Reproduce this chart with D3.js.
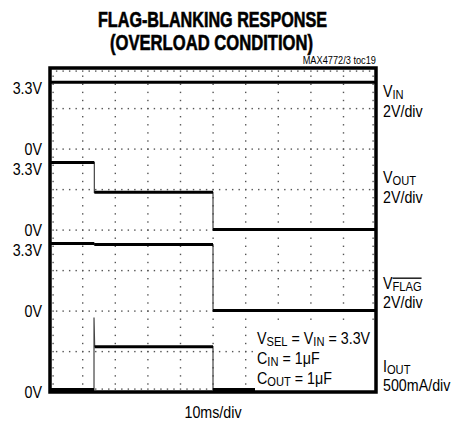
<!DOCTYPE html>
<html>
<head>
<meta charset="utf-8">
<script src="https://cdn.jsdelivr.net/npm/d3@7"></script>
<style>
  body { margin: 0; background: #fff; }
  text { font-family: "Liberation Sans", Arial, sans-serif; fill: #000; }
</style>
</head>
<body>
<div id="scope"></div>
<script>
// time axis: 10ms/div, 10 divisions
var timeDomain = [0, 100];

// traces (time in ms, value in V or A)
var vinTime = [0, 100];
var vinValue = [3.3, 3.3];

var voutTime = [0, 13.6, 13.6, 50, 50, 100];
var voutValue = [3.33, 3.33, 1.86, 1.86, 0.03, 0.03];

var flagTime = [0, 13.6, 13.6, 50, 50, 100];
var flagValue = [3.33, 3.33, 3.28, 3.28, 0.03, 0.03];

var ioutTime = [0, 13.5, 13.5, 13.7, 50, 50, 100];
var ioutValue = [0.03, 0.03, 0.92, 0.56, 0.56, 0.03, 0.03];

// left level labels
var levelLabels = ["3.3V", "0V", "3.3V", "0V", "3.3V", "0V", "0V"];

var width = 453,
    height = 427;

var boxLeft = 50, boxRight = 376, boxTop = 68, boxBottom = 392;

var svg = d3.select("#scope")
  .append("svg")
  .attr("width", width)
  .attr("height", height);

var x = d3.scaleLinear().domain(timeDomain).range([boxLeft, boxRight]);
// screen divisions, 0 at the bottom
var div = d3.scaleLinear().domain([0, 8]).range([boxBottom, boxTop]);

// each channel sits on its own ground line (in divisions)
var channels = [
  { time: vinTime, value: vinValue, ground: 6, perDiv: 2 },
  { time: voutTime, value: voutValue, ground: 4, perDiv: 2 },
  { time: flagTime, value: flagValue, ground: 2, perDiv: 2 },
  { time: ioutTime, value: ioutValue, ground: 0, perDiv: 0.5 }
];
channels.forEach(function(c) {
  c.y = function(v) { return div(c.ground + v / c.perDiv); };
});

// dotted graticule
var grid = svg.append("g").attr("fill", "#555");
var minorY = d3.range(0, 8.001, 0.2);
var minorX = d3.range(0, 100.001, 2);

d3.range(0, 11).forEach(function(i) {
  var gx = x(i * 10);
  if (i === 0) gx += 3;
  if (i === 10) gx -= 3;
  grid.selectAll(null)
    .data(minorY)
    .enter().append("rect")
    .attr("x", gx - 0.6)
    .attr("y", function(d) { return div(d) - 0.6; })
    .attr("width", 1.4)
    .attr("height", 1.4);
});

d3.range(0, 9).forEach(function(j) {
  var gy = div(j);
  if (j === 0) gy -= 3;
  if (j === 8) gy += 3;
  grid.selectAll(null)
    .data(minorX)
    .enter().append("rect")
    .attr("x", function(d) { return x(d) - 0.6; })
    .attr("y", gy - 0.6)
    .attr("width", 1.4)
    .attr("height", 1.4);
});

// traces: thin edges, thick flat segments
channels.forEach(function(c) {
  var pts = c.time.map(function(t, k) { return [x(t), c.y(c.value[k])]; });

  svg.append("path")
    .attr("d", d3.line()(pts))
    .attr("fill", "none")
    .attr("stroke", "#444")
    .attr("stroke-width", 1.2);

  var flats = [];
  for (var k = 1; k < pts.length; k++) {
    if (c.value[k] === c.value[k - 1] && c.time[k] !== c.time[k - 1]) {
      flats.push([pts[k - 1], pts[k]]);
    }
  }
  svg.selectAll(null)
    .data(flats)
    .enter().append("path")
    .attr("d", function(d) { return d3.line()(d); })
    .attr("fill", "none")
    .attr("stroke", "#000")
    .attr("stroke-width", 3);
});

// condensed text helper
function label(px, py, size, anchor, parts) {
  var g = svg.append("g")
    .attr("transform", "translate(" + px + "," + py + ") scale(0.84,1)");
  var t = g.append("text")
    .attr("font-size", size)
    .attr("text-anchor", anchor);
  parts.forEach(function(p) {
    var s = t.append("tspan").text(p.text);
    if (p.sub) s.attr("font-size", size * 0.78).attr("dy", 1.5);
    if (p.up) s.attr("dy", -1.5);
    if (p.over) s.style("text-decoration", "overline");
  });
  return t;
}

// conditions box covers the lower right of the screen
svg.append("rect")
  .attr("x", 255)
  .attr("y", 326)
  .attr("width", boxRight - 255)
  .attr("height", boxBottom - 326)
  .attr("fill", "#fff");

label(257, 344, 17, "start", [
  { text: "V" }, { text: "SEL", sub: true }, { text: " = V", up: true },
  { text: "IN", sub: true }, { text: " = 3.3V", up: true }
]);
label(257, 364, 17, "start", [
  { text: "C" }, { text: "IN", sub: true }, { text: " = 1\u03bcF", up: true }
]);
label(257, 384, 17, "start", [
  { text: "C" }, { text: "OUT", sub: true }, { text: " = 1\u03bcF", up: true }
]);

// screen border
svg.append("rect")
  .attr("x", boxLeft)
  .attr("y", boxTop)
  .attr("width", boxRight - boxLeft)
  .attr("height", boxBottom - boxTop)
  .attr("fill", "none")
  .attr("stroke", "#000")
  .attr("stroke-width", 3.5);

// left level labels, at each channel's 3.3V and ground
var labelY = [
  channels[0].y(3.3) + 6, channels[0].y(0),
  channels[1].y(3.3) + 6, channels[1].y(0),
  channels[2].y(3.3) + 6, channels[2].y(0),
  channels[3].y(0)
];
levelLabels.forEach(function(s, k) {
  label(42, labelY[k] + 6, 17, "end", [{ text: s }]);
});

// channel names on the right
label(383, 97, 17, "start", [{ text: "V" }, { text: "IN", sub: true }]);
label(383, 117, 17, "start", [{ text: "2V/div" }]);
label(383, 183, 17, "start", [{ text: "V" }, { text: "OUT", sub: true }]);
label(383, 203, 17, "start", [{ text: "2V/div" }]);
label(383, 289, 17, "start", [{ text: "V" }, { text: "FLAG", sub: true, over: true }]);
label(383, 308, 17, "start", [{ text: "2V/div" }]);
label(383, 372, 17, "start", [{ text: "I" }, { text: "OUT", sub: true }]);
label(383, 391, 17, "start", [{ text: "500mA/div" }]);

// time base
label(213, 418, 17, "middle", [{ text: "10ms/div" }]);

// title
svg.append("text")
  .attr("x", 98).attr("y", 27)
  .attr("font-size", 22).attr("font-weight", "bold")
  .attr("stroke", "#000").attr("stroke-width", 0.6)
  .attr("textLength", 229).attr("lengthAdjust", "spacingAndGlyphs")
  .text("FLAG-BLANKING RESPONSE");
svg.append("text")
  .attr("x", 110).attr("y", 50)
  .attr("font-size", 22).attr("font-weight", "bold")
  .attr("stroke", "#000").attr("stroke-width", 0.6)
  .attr("textLength", 203).attr("lengthAdjust", "spacingAndGlyphs")
  .text("(OVERLOAD CONDITION)");

label(376, 64, 11, "end", [{ text: "MAX4772/3 toc19" }]);
</script>
</body>
</html>
